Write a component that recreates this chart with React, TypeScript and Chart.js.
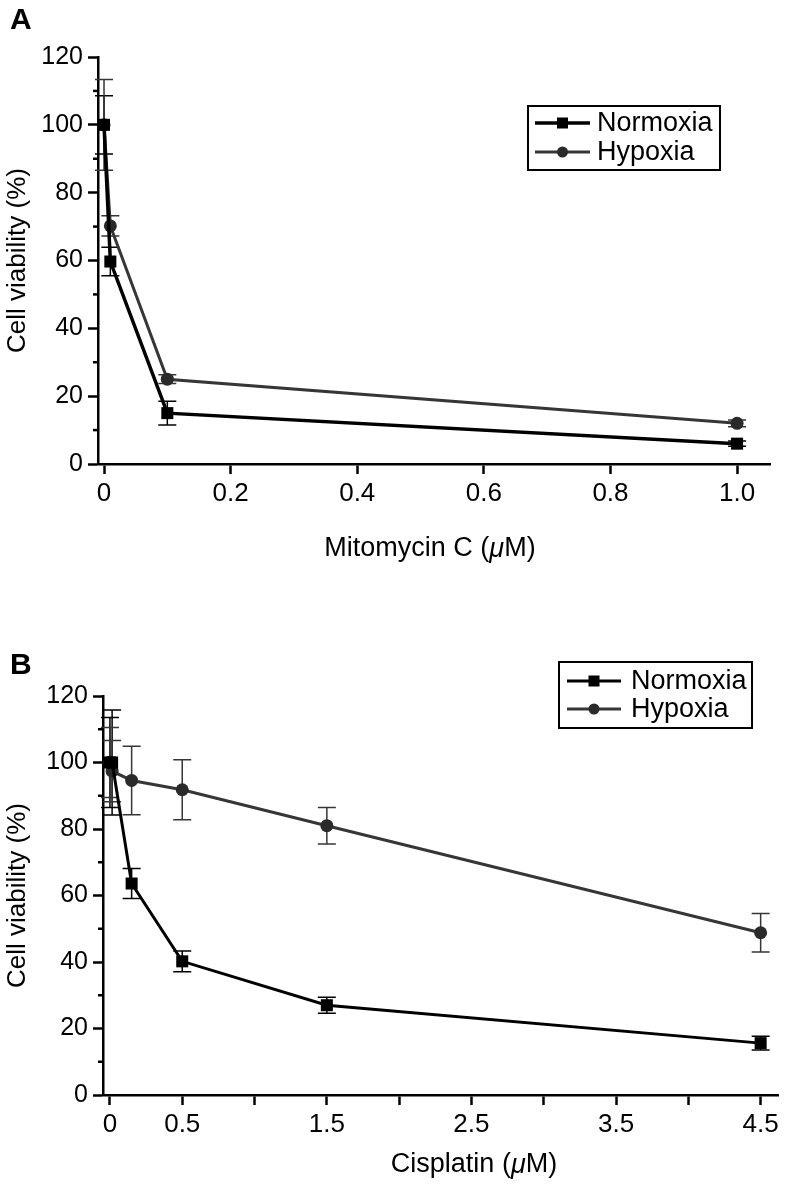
import React, { useEffect, useRef } from 'react';
import { Chart, registerables } from 'chart.js';

Chart.register(...registerables);

// ---------- data ----------
const seriesNames = ['Normoxia', 'Hypoxia'];

const mitoDoses = [0, 0.01, 0.1, 1.0];
const mitoNormoxia = [100, 59.7, 15, 6];
const mitoNormoxiaErr = [8.6, 4.2, 3.5, 0.8];
const mitoHypoxia = [100, 70.2, 25, 12];
const mitoHypoxiaErr = [13.4, 3, 1.3, 1];
const mitoTicks = [0, 0.2, 0.4, 0.6, 0.8, 1.0];
const mitoTickLabels = ['0', '0.2', '0.4', '0.6', '0.8', '1.0'];

const cisDoses = [0, 0.015, 0.15, 0.5, 1.5, 4.5];
const cisNormoxia = [100, 100, 63.6, 40.2, 27, 15.6];
const cisNormoxiaErr = [13.5, 15.8, 4.5, 3.1, 2.4, 2.1];
const cisHypoxia = [100, 97.4, 94.6, 91.8, 81, 48.8];
const cisHypoxiaErr = [10.5, 9.2, 10.3, 9, 5.5, 5.8];
const cisTicks = [0, 0.5, 1, 1.5, 2, 2.5, 3, 3.5, 4, 4.5];
const cisTickLabels = ['0', '0.5', '', '1.5', '', '2.5', '', '3.5', '', '4.5'];

const yMajorTicks = [0, 20, 40, 60, 80, 100, 120];
const yMinorTicks = [10, 30, 50, 70, 90, 110];
const yTitle = 'Cell viability (%)';
const mitoTitle = [
  { t: 'Mitomycin C (', it: false },
  { t: 'μ', it: true },
  { t: 'M)', it: false },
];
const cisTitle = [
  { t: 'Cisplatin (', it: false },
  { t: 'μ', it: true },
  { t: 'M)', it: false },
];

// ---------- styles ----------
const SANS = "'Liberation Sans', Arial, sans-serif";
const NORM_COLOR = '#000000';
const HYP_COLOR = '#363636';

// ---------- plugins ----------
const errorBarPlugin = {
  id: 'errorBars',
  beforeDatasetsDraw(chart: any) {
    const ctx = chart.ctx;
    const y = chart.scales.y;
    chart.data.datasets.forEach((ds: any, di: number) => {
      const meta = chart.getDatasetMeta(di);
      const errs = ds.errors || [];
      ctx.save();
      ctx.strokeStyle = ds.errColor || ds.borderColor;
      ctx.lineWidth = 1.5;
      meta.data.forEach((pt: any, i: number) => {
        const v = ds.data[i].y;
        const e = errs[i];
        if (e == null) return;
        const x = pt.x;
        const top = y.getPixelForValue(v + e);
        const bot = y.getPixelForValue(v - e);
        const cap = 9;
        ctx.beginPath();
        ctx.moveTo(x, top);
        ctx.lineTo(x, bot);
        ctx.moveTo(x - cap, top);
        ctx.lineTo(x + cap, top);
        ctx.moveTo(x - cap, bot);
        ctx.lineTo(x + cap, bot);
        ctx.stroke();
      });
      ctx.restore();
    });
  },
};

const minorTickPlugin = {
  id: 'minorTicks',
  afterDraw(chart: any, _args: any, opts: any) {
    const ctx = chart.ctx;
    const y = chart.scales.y;
    const left = chart.chartArea.left;
    ctx.save();
    ctx.strokeStyle = '#000';
    ctx.lineWidth = 2.5;
    (opts.values || []).forEach((v: number) => {
      const py = y.getPixelForValue(v);
      ctx.beginPath();
      ctx.moveTo(left - 5, py);
      ctx.lineTo(left, py);
      ctx.stroke();
    });
    ctx.restore();
  },
};

const xTitlePlugin = {
  id: 'xTitle',
  afterDraw(chart: any, _args: any, opts: any) {
    const ctx = chart.ctx;
    const segs = opts.segments || [];
    ctx.save();
    ctx.fillStyle = '#000';
    ctx.textBaseline = 'middle';
    ctx.textAlign = 'left';
    const fontFor = (it: boolean) => `${it ? 'italic ' : ''}${opts.size}px ${opts.family}`;
    let total = 0;
    segs.forEach((s: any) => {
      ctx.font = fontFor(s.it);
      total += ctx.measureText(s.t).width;
    });
    let x = opts.cx - total / 2;
    segs.forEach((s: any) => {
      ctx.font = fontFor(s.it);
      ctx.fillText(s.t, x, opts.cy);
      x += ctx.measureText(s.t).width;
    });
    ctx.restore();
  },
};

const legendPlugin = {
  id: 'boxLegend',
  afterDraw(chart: any, _args: any, opts: any) {
    const ctx = chart.ctx;
    const [bx, by, bw, bh] = opts.box;
    ctx.save();
    ctx.fillStyle = '#fff';
    ctx.fillRect(bx, by, bw, bh);
    ctx.strokeStyle = '#000';
    ctx.lineWidth = 2;
    ctx.strokeRect(bx, by, bw, bh);
    chart.data.datasets.forEach((ds: any, i: number) => {
      const ry = opts.rows[i];
      ctx.strokeStyle = ds.borderColor;
      ctx.lineWidth = ds.borderWidth;
      ctx.beginPath();
      ctx.moveTo(opts.lineX[0], ry);
      ctx.lineTo(opts.lineX[1], ry);
      ctx.stroke();
      const mx = (opts.lineX[0] + opts.lineX[1]) / 2;
      ctx.fillStyle = ds.pointBackgroundColor;
      if (ds.pointStyle === 'rect') {
        ctx.fillRect(mx - 5.5, ry - 5.5, 11, 11);
      } else {
        ctx.beginPath();
        ctx.arc(mx, ry, 5.5, 0, Math.PI * 2);
        ctx.fill();
      }
      ctx.fillStyle = '#000';
      ctx.font = `${opts.size}px ${SANS}`;
      ctx.textBaseline = 'middle';
      ctx.textAlign = 'left';
      ctx.fillText(ds.label, opts.textX, ry + 1);
    });
    ctx.restore();
  },
};

type PanelCfg = {
  doses: number[];
  norm: number[];
  normErr: number[];
  hyp: number[];
  hypErr: number[];
  xTicks: number[];
  xLabels: string[];
  xMin: number;
  xMax: number;
  pad: { left: number; top: number; right: number; bottom: number };
  yWidth: number;
  xHeight: number;
  title: { t: string; it: boolean }[];
  titleCx: number;
  titleCy: number;
  legend: any;
  normWidth: number;
  hypWidth: number;
};

function makeConfig(p: PanelCfg): any {
  const pts = (vals: number[]) => p.doses.map((d, i) => ({ x: d, y: vals[i] }));
  return {
    type: 'line',
    data: {
      datasets: [
        {
          label: seriesNames[0],
          data: pts(p.norm),
          errors: p.normErr,
          borderColor: NORM_COLOR,
          borderWidth: p.normWidth,
          pointStyle: 'rect',
          pointRadius: 8.5,
          pointBackgroundColor: NORM_COLOR,
          pointBorderWidth: 0,
          tension: 0,
          order: 0,
        },
        {
          label: seriesNames[1],
          data: pts(p.hyp),
          errors: p.hypErr,
          borderColor: HYP_COLOR,
          borderWidth: p.hypWidth,
          pointStyle: 'circle',
          pointRadius: 6.5,
          pointBackgroundColor: '#2a2a2a',
          pointBorderWidth: 0,
          tension: 0,
          order: 1,
        },
      ],
    },
    options: {
      responsive: false,
      animation: false,
      devicePixelRatio: 1,
      layout: { padding: p.pad },
      plugins: {
        legend: { display: false },
        tooltip: { enabled: false },
        minorTicks: { values: yMinorTicks },
        xTitle: { segments: p.title, cx: p.titleCx, cy: p.titleCy, size: 27, family: SANS },
        boxLegend: p.legend,
      },
      scales: {
        x: {
          type: 'linear',
          min: p.xMin,
          max: p.xMax,
          afterBuildTicks: (s: any) => {
            s.ticks = p.xTicks.map((v) => ({ value: v }));
          },
          afterFit: (s: any) => {
            s.height = p.xHeight;
          },
          ticks: {
            autoSkip: false,
            maxRotation: 0,
            padding: 4,
            color: '#000',
            font: { family: SANS, size: 26 },
            callback: (v: number) => {
              const i = p.xTicks.findIndex((t) => Math.abs(t - v) < 1e-9);
              return i >= 0 ? p.xLabels[i] : '';
            },
          },
          grid: {
            drawOnChartArea: false,
            drawTicks: true,
            tickLength: 10,
            tickWidth: 2.5,
            tickColor: '#000',
          },
          border: { color: '#000', width: 2.5 },
        },
        y: {
          type: 'linear',
          min: 0,
          max: 120,
          afterBuildTicks: (s: any) => {
            s.ticks = yMajorTicks.map((v) => ({ value: v }));
          },
          afterFit: (s: any) => {
            s.width = p.yWidth;
          },
          ticks: {
            padding: 5,
            color: '#000',
            font: { family: SANS, size: 25 },
            callback: (v: number) => String(v),
          },
          grid: {
            drawOnChartArea: false,
            drawTicks: true,
            tickLength: 10,
            tickWidth: 2.5,
            tickColor: '#000',
          },
          border: { color: '#000', width: 2.5 },
          title: {
            display: true,
            text: yTitle,
            color: '#000',
            font: { family: SANS, size: 26 },
            padding: { top: 2, bottom: 0 },
          },
        },
      },
    },
    plugins: [errorBarPlugin, minorTickPlugin, xTitlePlugin, legendPlugin],
  };
}

const panelA: PanelCfg = {
  doses: mitoDoses,
  norm: mitoNormoxia,
  normErr: mitoNormoxiaErr,
  hyp: mitoHypoxia,
  hypErr: mitoHypoxiaErr,
  xTicks: mitoTicks,
  xLabels: mitoTickLabels,
  xMin: -0.0095,
  xMax: 1.052,
  pad: { left: 0, top: 57, right: 18, bottom: 0 },
  yWidth: 98,
  xHeight: 126,
  title: mitoTitle,
  titleCx: 430,
  titleCy: 549,
  legend: { box: [528, 106, 192, 64], rows: [123, 152], lineX: [535, 590], textX: 597, size: 27 },
  normWidth: 3.5,
  hypWidth: 3,
};

const panelB: PanelCfg = {
  doses: cisDoses,
  norm: cisNormoxia,
  normErr: cisNormoxiaErr,
  hyp: cisHypoxia,
  hypErr: cisHypoxiaErr,
  xTicks: cisTicks,
  xLabels: cisTickLabels,
  xMin: -0.048,
  xMax: 4.62,
  pad: { left: 0, top: 106, right: 10, bottom: 0 },
  yWidth: 103,
  xHeight: 89,
  title: cisTitle,
  titleCx: 474,
  titleCy: 575,
  legend: { box: [559, 72, 193, 66], rows: [91, 119], lineX: [567, 621], textX: 631, size: 27 },
  normWidth: 3,
  hypWidth: 3,
};

function Panel({ cfg, top, height }: { cfg: PanelCfg; top: number; height: number }) {
  const ref = useRef<HTMLCanvasElement | null>(null);
  useEffect(() => {
    if (!ref.current) return;
    const chart = new Chart(ref.current, makeConfig(cfg));
    return () => chart.destroy();
  }, [cfg]);
  return (
    <canvas
      ref={ref}
      width={788}
      height={height}
      style={{ position: 'absolute', left: 0, top, width: 788, height }}
    />
  );
}

export default function App() {
  const letter: React.CSSProperties = {
    position: 'absolute',
    left: 10,
    fontFamily: SANS,
    fontWeight: 'bold',
    fontSize: 30,
    lineHeight: 1,
    color: '#000',
  };
  return (
    <div style={{ position: 'absolute', left: 0, top: 0, width: 788, height: 1184, background: '#fff' }}>
      <Panel cfg={panelA} top={0} height={590} />
      <Panel cfg={panelB} top={590} height={594} />
      <div style={{ ...letter, top: 4 }}>A</div>
      <div style={{ ...letter, top: 649 }}>B</div>
    </div>
  );
}
